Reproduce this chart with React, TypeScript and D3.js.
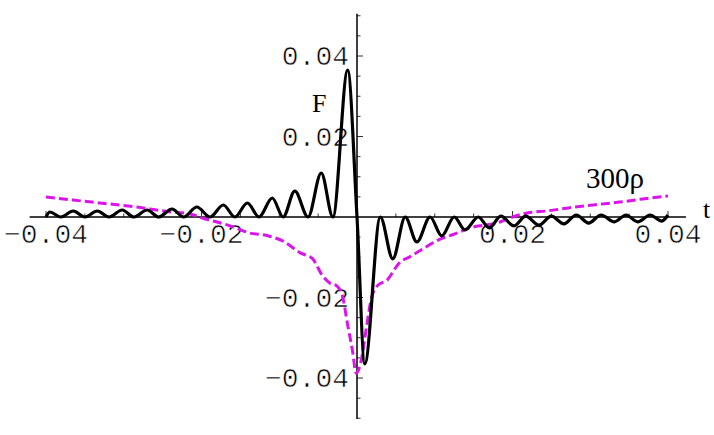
import React from 'react';
import * as d3 from 'd3';

// F(t) — solid black curve (peaks / troughs / crossings)
const fT = [
  -0.0400, -0.0395, -0.0381, -0.0365, -0.0350, -0.0334, -0.0319, -0.0302, -0.0287, -0.0270,
  -0.0255, -0.0238, -0.0223, -0.0206, -0.0189, -0.0172, -0.0157, -0.0141, -0.0126, -0.0109,
  -0.0095, -0.0080, -0.0063, -0.0046, -0.0031, -0.0012, 0.0000, 0.0010, 0.0030, 0.0046,
  0.0062, 0.0077, 0.0094, 0.0109, 0.0125, 0.0139, 0.0156, 0.0170, 0.0185, 0.0202,
  0.0217, 0.0234, 0.0250, 0.0266, 0.0282, 0.0298, 0.0314, 0.0331, 0.0346, 0.0361,
  0.0377, 0.0392, 0.0400,
];
const fV = [
  0, 0.00124, 0, 0.00149, 0, 0.00149, 0, 0.00174, 0, 0.00174,
  0, 0.00199, 0, 0.00248, 0, 0.00298, 0, 0.00348, 0, 0.00472,
  0, 0.00646, 0, 0.01093, 0, 0.0365, 0, -0.0365, 0, -0.0104,
  0, -0.0062, 0, -0.0047, 0, -0.0032, 0, -0.0027, 0.0002, -0.0022,
  0.0002, -0.0020, 0.0002, -0.0017, 0.0005, -0.0015, 0.0005, -0.0012, 0.0005, -0.0012,
  0.0005, -0.0010, 0.0005,
];

// 300ρ(t) — dashed magenta curve
const rhoT = [
  -0.0400, -0.0365, -0.0331, -0.0288, -0.0244, -0.0215, -0.0195, -0.0180, -0.0159, -0.0138,
  -0.0116, -0.0095, -0.0073, -0.0057, -0.0045, -0.0035, -0.0026, -0.0019, -0.0012, -0.0006,
  -0.0001, 0.0005, 0.0012, 0.0018, 0.0026, 0.0040, 0.0046, 0.0053, 0.0068, 0.0084,
  0.0107, 0.0126, 0.0145, 0.0165, 0.0180, 0.0197, 0.0219, 0.0244, 0.0270, 0.0304,
  0.0338, 0.0368, 0.0400,
];
const rhoV = [
  0.00497, 0.00422, 0.00348, 0.00261, 0.00137, 0.00075, -0.0005, -0.00124, -0.00248, -0.00398,
  -0.0046, -0.0060, -0.0089, -0.0104, -0.0144, -0.0164, -0.0171, -0.0194, -0.0268, -0.0330,
  -0.0388, -0.0360, -0.0276, -0.0206, -0.0171, -0.0154, -0.0137, -0.0117, -0.0099, -0.0080,
  -0.0055, -0.0042, -0.0027, -0.0020, -0.0015, -0.0002, 0.0010, 0.0015, 0.0022, 0.0030,
  0.0037, 0.0045, 0.0052,
];

const xTicks = [-0.04, -0.02, 0.02, 0.04];
const xTickLabels = ['\u22120.04', '\u22120.02', '0.02', '0.04'];
const yTicks = [-0.04, -0.02, 0.02, 0.04];
const yTickLabels = ['\u22120.04', '\u22120.02', '0.02', '0.04'];
const xMinor = d3.range(-8, 9).map((i) => i * 0.005).filter((v) => Math.abs(v) > 1e-9);
const yMinor = d3.range(-10, 11).map((i) => i * 0.005).filter((v) => Math.abs(v) > 1e-9);
const xAxisExtent = [-0.0421, 0.0423];
const yAxisExtent = [-0.0502, 0.0505];

export default function App() {
  const W = 714;
  const H = 435;
  const x = d3.scaleLinear().domain([-0.04, 0.04]).range([46, 668]);
  const y = d3.scaleLinear().domain([-0.04, 0.04]).range([378, 56]);
  const line = d3
    .line<[number, number]>()
    .x((d) => x(d[0]))
    .y((d) => y(d[1]))
    .curve(d3.curveMonotoneX);
  const fPts = fT.map((t, i) => [t, fV[i]] as [number, number]);
  const rPts = rhoT.map((t, i) => [t, rhoV[i]] as [number, number]);
  const x0 = x(0);
  const y0 = y(0);
  const mono = "'Liberation Mono', 'Courier New', monospace";
  const serif = "'Liberation Serif', 'Times New Roman', serif";
  const thin = { stroke: '#fff', strokeWidth: 0.6 };

  return (
    <svg
      width={W}
      height={H}
      style={{ position: 'absolute', left: 0, top: 0, background: '#fff' }}
    >
      <rect width={W} height={H} fill="#fff" />
      {/* axes */}
      <line x1={x(xAxisExtent[0])} x2={x(xAxisExtent[1])} y1={y0} y2={y0} stroke="#000" strokeWidth={1.5} />
      <line x1={x0} x2={x0} y1={y(yAxisExtent[0])} y2={y(yAxisExtent[1])} stroke="#000" strokeWidth={1.5} />
      {xMinor.map((v) => {
        const major = xTicks.some((m) => Math.abs(m - v) < 1e-9);
        return (
          <line key={'xm' + v} x1={x(v)} x2={x(v)} y1={y0} y2={y0 - (major ? 6 : 3.5)} stroke="#000" strokeWidth={0.8} />
        );
      })}
      {yMinor.map((v) => {
        const major = yTicks.some((m) => Math.abs(m - v) < 1e-9);
        return (
          <line key={'ym' + v} x1={x0} x2={x0 + (major ? 6 : 3.5)} y1={y(v)} y2={y(v)} stroke="#000" strokeWidth={0.8} />
        );
      })}
      {xTicks.map((v, i) => (
        <text key={'xl' + v} x={x(v)} y={y0 + 26} textAnchor="middle" fontFamily={mono} fontSize={28} fill="#000" {...thin}>
          {xTickLabels[i]}
        </text>
      ))}
      {yTicks.map((v, i) => (
        <text key={'yl' + v} x={x0 - 8} y={y(v) + 9} textAnchor="end" fontFamily={mono} fontSize={28} fill="#000" {...thin}>
          {yTickLabels[i]}
        </text>
      ))}
      {/* curves */}
      <path d={line(rPts) || ''} fill="none" stroke="#dc14ec" strokeWidth={3} strokeDasharray="9,4" />
      <path d={line(fPts) || ''} fill="none" stroke="#000" strokeWidth={3.2} strokeLinejoin="round" />
      {/* labels */}
      <text x={312} y={112} fontFamily={serif} fontSize={26} fill="#000">F</text>
      <text x={586} y={188} fontFamily={serif} fontSize={29} fill="#000">300ρ</text>
      <text x={703} y={218} fontFamily={serif} fontSize={26} fill="#000">t</text>
    </svg>
  );
}
